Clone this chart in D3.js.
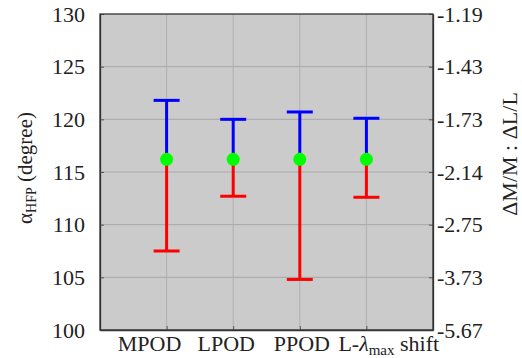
<!DOCTYPE html>
<html>
<head>
<meta charset="utf-8">
<script src="https://cdn.jsdelivr.net/npm/d3@7"></script>
<style>
  body { margin: 0; background: #fff; }
</style>
</head>
<body>
<svg></svg>
<script>
const categories = ["MPOD", "LPOD", "PPOD", "L-λmax shift"];
const centerVals = [116.2, 116.2, 116.2, 116.2];
const upperVals = [121.8, 120.0, 120.7, 120.1];
const lowerVals = [107.5, 112.7, 104.8, 112.6];
const leftTicks = [100, 105, 110, 115, 120, 125, 130];
const rightTickLabels = ["-5.67", "-3.73", "-2.75", "-2.14", "-1.73", "-1.43", "-1.19"];

const width = 522, height = 358;
const margin = { left: 100, right: 89, top: 14, bottom: 28 };
const plotW = width - margin.left - margin.right;
const plotH = height - margin.top - margin.bottom;
const FONT = "Liberation Serif";

const svg = d3.select("svg").attr("width", width).attr("height", height);
const g = svg.append("g").attr("transform", `translate(${margin.left},${margin.top})`);

const x = d3.scaleLinear().domain([0, 5]).range([0, plotW]);
const y = d3.scaleLinear().domain([100, 130]).range([plotH, 0]);

// background
g.append("rect").attr("width", plotW).attr("height", plotH).attr("fill", "#cbcbcb");

// grid
g.selectAll(".hgrid").data(leftTicks.slice(1, -1)).enter().append("line")
  .attr("x1", 0).attr("x2", plotW)
  .attr("y1", d => y(d)).attr("y2", d => y(d))
  .attr("stroke", "#a8a8a8").attr("stroke-width", 1);
g.selectAll(".vgrid").data(categories).enter().append("line")
  .attr("x1", (d, i) => x(i + 1)).attr("x2", (d, i) => x(i + 1))
  .attr("y1", 0).attr("y2", plotH)
  .attr("stroke", "#b0b0b0").attr("stroke-width", 1);

// axes
const leftAxis = d3.axisLeft(y).tickValues(leftTicks).tickSizeInner(-4).tickSizeOuter(0).tickPadding(15);
const gl = g.append("g").call(leftAxis);

const rightAxis = d3.axisRight(y).tickValues(leftTicks).tickSizeInner(-4).tickSizeOuter(0)
  .tickPadding(4).tickFormat((d, i) => rightTickLabels[i]);
const gr = g.append("g").attr("transform", `translate(${plotW},0)`).call(rightAxis);

const bottomAxis = d3.axisBottom(x).tickValues([1, 2, 3, 4]).tickSizeInner(-4).tickSizeOuter(0)
  .tickFormat("");
const gb = g.append("g").attr("transform", `translate(0,${plotH})`).call(bottomAxis);

[gl, gr, gb].forEach(a => a.attr("font-family", FONT).attr("font-size", 22));
[gl, gr].forEach(a => {
  a.selectAll("text").style("font-family", FONT).style("font-size", "22px").attr("fill", "#222");
});
[gl, gr, gb].forEach(a => a.selectAll(".tick line").attr("stroke", "#555"));
g.selectAll(".domain").attr("stroke", "#333").attr("stroke-width", 1.3);
g.append("rect").attr("width", plotW).attr("height", plotH)
  .attr("fill", "none").attr("stroke", "#333").attr("stroke-width", 1.3);

// x labels
const labelShift = [-17, -7, 2];
const xl = g.append("g").attr("transform", `translate(0,${plotH + 21})`);
categories.forEach((c, i) => {
  const t = xl.append("text").style("font-family", FONT).style("font-size", "22px").attr("fill", "#222");
  if (c.startsWith("L-λ")) {
    t.attr("x", x(i + 1) - 28).attr("text-anchor", "start");
    t.append("tspan").text("L-");
    t.append("tspan").style("font-style", "italic").text("λ");
    t.append("tspan").style("font-size", "15px").attr("dy", 4).text("max");
    t.append("tspan").attr("dy", -4).text(" shift");
  } else {
    t.attr("x", x(i + 1) + labelShift[i]).attr("text-anchor", "middle").text(c);
  }
});

// axis titles
const lt = svg.append("text").attr("transform", `translate(32,168) rotate(-90)`)
  .attr("text-anchor", "middle").style("font-family", FONT).style("font-size", "21px").attr("fill", "#222");
lt.append("tspan").text("α");
lt.append("tspan").style("font-size", "14px").attr("dy", 4).text("HFP");
lt.append("tspan").attr("dy", -4).text(" (degree)");

svg.append("text").attr("transform", `translate(517,154) rotate(-90)`)
  .attr("text-anchor", "middle").style("font-family", FONT).style("font-size", "22px").attr("fill", "#222")
  .text("ΔM/M : ΔL/L");

// error bars
const capW = 13;
categories.forEach((c, i) => {
  const cx = x(i + 1);
  g.append("line").attr("x1", cx).attr("x2", cx).attr("y1", y(centerVals[i])).attr("y2", y(upperVals[i]))
    .attr("stroke", "#0000ff").attr("stroke-width", 3);
  g.append("line").attr("x1", cx - capW).attr("x2", cx + capW).attr("y1", y(upperVals[i])).attr("y2", y(upperVals[i]))
    .attr("stroke", "#0000ff").attr("stroke-width", 3);
  g.append("line").attr("x1", cx).attr("x2", cx).attr("y1", y(centerVals[i])).attr("y2", y(lowerVals[i]))
    .attr("stroke", "#ff0000").attr("stroke-width", 3);
  g.append("line").attr("x1", cx - capW).attr("x2", cx + capW).attr("y1", y(lowerVals[i])).attr("y2", y(lowerVals[i]))
    .attr("stroke", "#ff0000").attr("stroke-width", 3);
  g.append("circle").attr("cx", cx).attr("cy", y(centerVals[i])).attr("r", 6.5).attr("fill", "#00ff00");
});
</script>
</body>
</html>
